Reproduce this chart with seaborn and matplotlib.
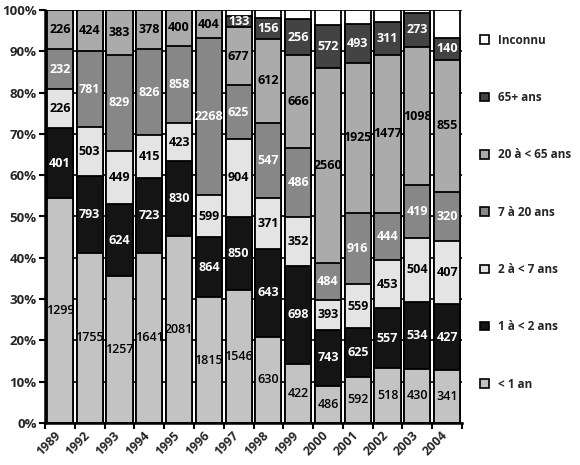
import numpy as np
import matplotlib
matplotlib.use("Agg")
import matplotlib.pyplot as plt
from matplotlib.patches import Patch
from matplotlib.ticker import FixedLocator, PercentFormatter
import matplotlib.transforms as mtransforms
import pandas as pd
import seaborn as sns

# Données (effectifs par tranche d'âge)
years = ['1989', '1992', '1993', '1994', '1995', '1996', '1997', '1998',
         '1999', '2000', '2001', '2002', '2003', '2004']
lt1 = [1299, 1755, 1257, 1641, 2081, 1815, 1546, 630, 422, 486, 592, 518, 430, 341]
a1_2 = [401, 793, 624, 723, 830, 864, 850, 643, 698, 743, 625, 557, 534, 427]
a2_7 = [226, 503, 449, 415, 423, 599, 904, 371, 352, 393, 559, 453, 504, 407]
a7_20 = [232, 781, 829, 826, 858, 2268, 625, 547, 486, 484, 916, 444, 419, 320]
a20_65 = [226, 424, 383, 378, 400, 404, 677, 612, 666, 2560, 1925, 1477, 1098, 855]
a65 = [0, 0, 0, 0, 0, 0, 133, 156, 256, 572, 493, 311, 273, 140]
inconnu = [0, 0, 0, 0, 0, 0, 64, 55, 65, 194, 185, 111, 22, 182]  # estimé (sans étiquette)

series = ['< 1 an', '1 à < 2 ans', '2 à < 7 ans', '7 à 20 ans',
          '20 à < 65 ans', '65+ ans', 'Inconnu']
counts = [lt1, a1_2, a2_7, a7_20, a20_65, a65, inconnu]
colors = ['#c3c3c3', '#141414', '#e4e4e4', '#878787', '#ababab', '#434343', '#ffffff']
text_colors = ['black', 'white', 'black', 'white', 'black', 'white', 'black']

df = pd.DataFrame(np.array(counts).T, index=years, columns=series)
pct = df.div(df.sum(axis=1), axis=0) * 100
cum = pct.cumsum(axis=1)

sns.set_theme(style="white")
plt.rcParams['font.family'] = ['Open Sans', 'DejaVu Sans']

fig = plt.figure(figsize=(5.8, 4.65), dpi=100)
ax = fig.add_axes([45 / 580, 42 / 465, 417 / 580, 413 / 465])

# barres empilées : on dessine les cumuls du plus haut au plus bas
for i in range(len(series) - 1, -1, -1):
    d = pd.DataFrame({'year': years, 'val': cum[series[i]].values})
    sns.barplot(data=d, x='year', y='val', order=years, color=colors[i],
                saturation=1, width=0.88, edgecolor='black', linewidth=1.3,
                ax=ax, zorder=2)

# étiquettes des effectifs
for i, s in enumerate(series[:-1]):
    for j, y in enumerate(years):
        v = df.loc[y, s]
        if v == 0:
            continue
        mid = cum.loc[y, s] - pct.loc[y, s] / 2
        ax.text(j, mid, str(v), ha='center', va='center', fontsize=9,
                color=text_colors[i],
                fontweight='semibold' if i == 0 else 'bold', zorder=5)

ax.set_xlim(-0.5, len(years) - 0.5)
ax.set_ylim(0, 100)
ax.yaxis.set_major_locator(FixedLocator(np.arange(0, 101, 10)))
ax.yaxis.set_major_formatter(PercentFormatter(decimals=0))
ax.set_axisbelow(True)
ax.yaxis.grid(True, color='black', linewidth=1.2, zorder=0)
ax.set_xlabel('')
ax.set_ylabel('')

for side in ['top', 'right']:
    ax.spines[side].set_visible(False)
for side in ['left', 'bottom']:
    ax.spines[side].set_color('black')
    ax.spines[side].set_linewidth(1.8)

ax.tick_params(axis='y', which='major', direction='out', length=4, width=1.5,
               color='black', labelsize=9.5, pad=2, left=True)
ax.tick_params(axis='x', which='major', length=0, labelsize=9, pad=4)
ax.set_xticks(np.arange(-0.5, len(years), 1), minor=True)
ax.tick_params(axis='x', which='minor', direction='out', length=4, width=1.5,
               color='black', bottom=True)
for lab in ax.get_yticklabels():
    lab.set_fontweight('bold')
offset = mtransforms.ScaledTranslation(-6 / 100, 0, fig.dpi_scale_trans)
for lab in ax.get_xticklabels():
    lab.set_rotation(45)
    lab.set_ha('right')
    lab.set_rotation_mode('anchor')
    lab.set_fontweight('bold')
    lab.set_transform(lab.get_transform() + offset)

handles = [Patch(facecolor=colors[i], edgecolor='black', linewidth=1.2, label=series[i])
           for i in range(len(series) - 1, -1, -1)]
leg = fig.legend(handles=handles, loc='upper left', bbox_to_anchor=(474 / 580, 1 - 28 / 465),
                 frameon=False, handlelength=0.75, handleheight=0.75, handletextpad=0.8,
                 labelspacing=3.75, borderpad=0, prop={'size': 8.5, 'weight': 'bold'})

fig.savefig('out.png', dpi=100)
